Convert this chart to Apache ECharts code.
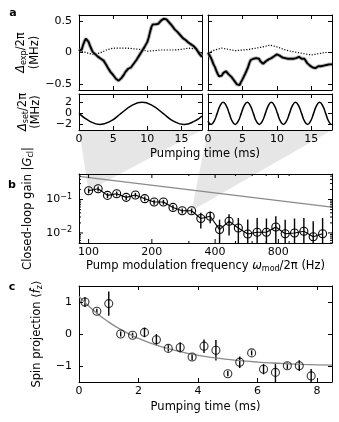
<!DOCTYPE html>
<html><head><meta charset="utf-8">
<script src="https://cdn.jsdelivr.net/npm/echarts@6/dist/echarts.min.js"></script>
<style>html,body{margin:0;padding:0;background:#fff}#c{width:339px;height:422px}</style>
</head><body><div id="c"></div>
<script>
// ---------- DATA ----------
// panel a: measured detuning traces (time in ms, value in MHz)
const traceTime = [0,0.2,0.4,0.6,0.8,1,1.2,1.4,1.6,1.8,2,2.2,2.4,2.6,2.8,3,3.2,3.4,3.6,3.8,4,4.2,4.4,4.6,4.8,5,5.2,5.4,5.6,5.8,6,6.2,6.4,6.6,6.8,7,7.2,7.4,7.6,7.8,8,8.2,8.4,8.6,8.8,9,9.2,9.4,9.6,9.8,10,10.2,10.4,10.6,10.8,11,11.2,11.4,11.6,11.8,12,12.2,12.4,12.6,12.8,13,13.2,13.4,13.6,13.8,14,14.2,14.4,14.6,14.8,15,15.2,15.4,15.6,15.8,16,16.2,16.4,16.6,16.8,17,17.2,17.4,17.6,17.8,18];
const expSlow = [0.02,0.03,0.05,0.12,0.18,0.22,0.22,0.17,0.11,0.06,
 0.01,-0.02,-0.03,-0.06,-0.07,-0.08,-0.10,-0.10,-0.13,-0.15,
 -0.20,-0.24,-0.27,-0.31,-0.34,-0.36,-0.39,-0.42,-0.44,-0.45,
 -0.43,-0.41,-0.38,-0.35,-0.31,-0.28,-0.26,-0.26,-0.24,-0.22,
 -0.18,-0.15,-0.12,-0.09,-0.05,-0.02,0.02,0.05,0.09,0.12,
 0.17,0.24,0.33,0.41,0.45,0.46,0.45,0.47,0.46,0.49,
 0.51,0.53,0.54,0.55,0.53,0.51,0.48,0.45,0.43,0.40,
 0.37,0.34,0.33,0.30,0.28,0.25,0.23,0.21,0.20,0.18,
 0.16,0.15,0.13,0.11,0.10,0.08,0.05,0.02,-0.02,-0.05,
 -0.07];
const expFast = [0.00,-0.02,-0.08,-0.13,-0.19,-0.23,-0.29,-0.34,-0.38,-0.40,
 -0.37,-0.33,-0.31,-0.30,-0.33,-0.35,-0.37,-0.39,-0.42,-0.45,
 -0.48,-0.51,-0.54,-0.52,-0.47,-0.43,-0.40,-0.34,-0.29,-0.24,
 -0.17,-0.12,-0.09,-0.10,-0.07,-0.09,-0.11,-0.10,-0.14,-0.16,
 -0.18,-0.17,-0.14,-0.13,-0.11,-0.10,-0.09,-0.08,-0.06,-0.04,
 -0.03,-0.02,-0.05,-0.06,-0.08,-0.07,-0.09,-0.10,-0.10,-0.11,
 -0.10,-0.11,-0.10,-0.09,-0.09,-0.08,-0.07,-0.08,-0.10,-0.12,
 -0.10,-0.12,-0.17,-0.20,-0.21,-0.21,-0.24,-0.23,-0.25,-0.22,
 -0.22,-0.21,-0.22,-0.23,-0.21,-0.20,-0.20,-0.20,-0.19,-0.19,
 -0.19];
const refTime = [0,1,2,3,4,5,6,7,8,9,10,11,12,13,14,15,16,17,18];
const refSlow = [0.03,0.00,-0.03,-0.01,0.04,0.07,0.07,0.07,0.06,0.05,0.02,0.03,0.04,0.04,0.04,0.05,0.07,0.06,-0.02];
const refFast = [0.00,0.04,0.07,0.05,0.03,0.04,0.05,0.07,0.09,0.12,0.09,0.05,0.02,0.00,-0.02,-0.04,-0.02,0.00,0.00];
// panel a: set-point modulation
const setSlowTime = [0,1.54,3.08,4.61,6.15,7.69,9.23,10.76,12.3,13.84,15.38,16.91,18];
const setSlowVal = [0,-1.41,-2,-1.41,0,1.41,2,1.41,0,-1.41,-2,-1.41,-0.46];
const setFastTime = [0,0.45,0.89,1.33,1.76,2.2,2.64,3.08,3.51,3.95,4.39,4.83,5.26,5.7,6.14,6.58,7.01,7.45,7.89,8.33,8.76,9.2,9.64,10.08,10.51,10.95,11.39,11.83,12.26,12.7,13.14,13.58,14.01,14.45,14.89,15.33,15.76,16.2,16.64,17.08,17.51,17.95,18];
const setFastVal = [-1.38,-2,-1.41,0,1.41,2,1.41,0,-1.41,-2,-1.41,0,1.41,2,1.41,0,-1.41,-2,-1.41,0,1.41,2,1.41,0,-1.41,-2,-1.41,0,1.41,2,1.41,0,-1.41,-2,-1.41,0,1.41,2,1.41,0,-1.41,-2,-1.99];
// panel b: closed-loop gain vs modulation frequency (Hz)
const modFreq = [100,111,123,136,151,167,185,205,227,252,279,309,342,379,420,466,516,572,634,702,778,862,955,1058,1172,1299];
const gain = [0.183,0.21,0.133,0.149,0.116,0.136,0.106,0.084,0.084,0.058,0.046,0.046,0.027,0.0315,0.0126,0.0224,0.0141,0.0093,0.0105,0.0105,0.0151,0.0095,0.0100,0.0112,0.0077,0.0095];
const gainErr = [0.03,0.035,0.022,0.025,0.019,0.022,0.018,0.014,0.014,0.010,0.008,0.008,0.0135,0.012,0.0124,0.014,0.014,0.016,0.0175,0.0165,0.0164,0.0155,0.017,0.017,0.0147,0.0185];
const openLoopFreq = [90,1440];
const openLoopGain = [0.495,0.059];
const bTickMajorFreq = [100,200,400,800];
const bTickMinorFreq = [300,500,600,700,900];
const bTickMajorGain = [0.01,0.1];
const bTickMinorGain = [0.005,0.006,0.007,0.008,0.009,0.02,0.03,0.04,0.05,0.06,0.07,0.08,0.09,0.2,0.3,0.4,0.5];
// panel c: spin projection vs pumping time
const pumpTime = [0.2,0.6,1.0,1.4,1.8,2.2,2.6,3.0,3.4,3.8,4.2,4.6,5.0,5.4,5.8,6.2,6.6,7.0,7.4,7.8];
const spin = [1.0,0.71,0.95,0.0,-0.04,0.05,-0.18,-0.45,-0.42,-0.72,-0.38,-0.51,-1.24,-0.88,-0.59,-1.1,-1.2,-0.99,-0.99,-1.31];
const spinErr = [0.16,0.08,0.38,0.08,0.08,0.15,0.18,0.1,0.16,0.1,0.21,0.32,0.08,0.18,0.08,0.16,0.3,0.1,0.17,0.22];
const fitTime = [0,0.5,1,1.5,2,2.5,3,3.5,4,4.5,5,5.5,6,6.5,7,7.5,8,8.5];
const fitVal = [1.17,0.725,0.371,0.088,-0.137,-0.317,-0.46,-0.574,-0.665,-0.737,-0.794,-0.84,-0.877,-0.906,-0.929,-0.948,-0.962,-0.974];
// tick labels
const ticksA_t = [0,5,10,15];
const ticksA_exp = [-0.5,0,0.5];
const ticksA_set = [-2,0,2];
const ticksC_t = [0,2,4,6,8];
const ticksC_s = [-1,0,1];

// ---------- HELPERS ----------
const F = 'DejaVu Sans';
const zip = (a, b) => a.map((v, i) => [v, b[i]]);
const fmtNum = v => (v < 0 ? '\u2212' : '') + Math.abs(v);
const RICH = {
  i: {fontStyle: 'italic', fontFamily: F, fontSize: 11.5, color: '#000', lineHeight: 14},
  s: {fontFamily: F, fontSize: 8, verticalAlign: 'bottom', lineHeight: 9, color: '#000'},
  sup: {fontFamily: F, fontSize: 8, verticalAlign: 'top', lineHeight: 9, color: '#000'},
  b: {fontFamily: F, fontSize: 11, color: '#000', lineHeight: 14}
};
const nameStyle = {fontFamily: F, fontSize: 11.5, color: '#000', lineHeight: 13, rich: RICH};

function valAxis(pos, gi, min, max, ticks, labelOn, extra) {
  const a = {
    type: 'value', gridIndex: gi, position: pos, min: min, max: max,
    axisLine: {show: true, onZero: false, lineStyle: {color: '#000', width: 1}},
    axisTick: {show: true, inside: true, length: 4, customValues: ticks, lineStyle: {color: '#000', width: 1}},
    axisLabel: labelOn ? {show: true, customValues: ticks, formatter: fmtNum, color: '#000', fontFamily: F, fontSize: 11, margin: (pos === 'left' ? 7 : 4)} : {show: false},
    splitLine: {show: false}
  };
  return Object.assign(a, extra || {});
}
function logAxis(pos, gi, min, max, base, labelOn, fmt, extra) {
  const a = {
    type: 'log', logBase: base, gridIndex: gi, position: pos, min: min, max: max,
    axisLine: {show: true, onZero: false, lineStyle: {color: '#000', width: 1}},
    axisTick: {show: false},
    minorTick: {show: false},
    axisLabel: labelOn ? {show: true, formatter: fmt, color: '#000', fontFamily: F, fontSize: 11, margin: (pos === 'left' ? 7 : 4), showMinLabel: false, showMaxLabel: false, rich: RICH} : {show: false},
    splitLine: {show: false}
  };
  return Object.assign(a, extra || {});
}
const yName = (txt, gap) => ({name: txt, nameLocation: 'middle', nameRotate: 90, nameGap: gap, nameTextStyle: nameStyle});
const xName = (txt, gap) => ({name: txt, nameLocation: 'middle', nameGap: gap, nameTextStyle: nameStyle});

const grids = [
  {left: 79, top: 15, width: 123, height: 75},
  {left: 208, top: 15, width: 124, height: 75},
  {left: 79, top: 94, width: 123, height: 36},
  {left: 208, top: 94, width: 124, height: 36},
  {left: 79, top: 174, width: 253, height: 69},
  {left: 79, top: 286, width: 253, height: 96}
];

const xAxes = [
  valAxis('bottom', 0, 0, 18, ticksA_t, false), valAxis('top', 0, 0, 18, ticksA_t, false),
  valAxis('bottom', 1, 0, 18, ticksA_t, false), valAxis('top', 1, 0, 18, ticksA_t, false),
  valAxis('bottom', 2, 0, 18, ticksA_t, true), valAxis('top', 2, 0, 18, ticksA_t, false),
  valAxis('bottom', 3, 0, 18, ticksA_t, true), valAxis('top', 3, 0, 18, ticksA_t, false),
  logAxis('bottom', 4, openLoopFreq[0] / 100, openLoopFreq[1] / 100, 2, true, v => String(Math.round(v * 100)),
    xName('Pump modulation frequency {i|ω}{s|mod}/2π (Hz)', 15)),
  logAxis('top', 4, openLoopFreq[0] / 100, openLoopFreq[1] / 100, 2, false),
  valAxis('bottom', 5, 0, 8.5, ticksC_t, true, xName('Pumping time (ms)', 19)),
  valAxis('top', 5, 0, 8.5, ticksC_t, false)
];
const yAxes = [
  valAxis('left', 0, -0.6, 0.6, ticksA_exp, true, yName('{i|Δ}{s|exp}/2π\n(MHz)', 36)), valAxis('right', 0, -0.6, 0.6, ticksA_exp, false),
  valAxis('left', 1, -0.6, 0.6, ticksA_exp, false), valAxis('right', 1, -0.6, 0.6, ticksA_exp, false),
  valAxis('left', 2, -3, 3.5, ticksA_set, true, yName('{i|Δ}{s|set}/2π\n(MHz)', 36)), valAxis('right', 2, -3, 3.5, ticksA_set, false),
  valAxis('left', 3, -3, 3.5, ticksA_set, false), valAxis('right', 3, -3, 3.5, ticksA_set, false),
  logAxis('left', 4, 0.005, 0.58, 10, true, v => '{b|10}{sup|\u2212' + Math.abs(Math.round(Math.log10(v))) + '}',
    yName('Closed-loop gain |{i|G}{s|cl}|', 44)),
  logAxis('right', 4, 0.005, 0.58, 10, false),
  valAxis('left', 5, -1.5, 1.5, ticksC_s, true, yName('Spin projection ⟨{i|f̂}{s|z}⟩', 35)), valAxis('right', 5, -1.5, 1.5, ticksC_s, false)
];

function errRender(params, api) {
  const x = api.value(0), y = api.value(1), e = api.value(2);
  const cs = params.coordSys;
  const p = api.coord([x, y + e]);
  const lo = y - e;
  let yb = lo > 0 ? api.coord([x, lo])[1] : cs.y + cs.height;
  if (!isFinite(yb)) yb = cs.y + cs.height;
  yb = Math.min(yb, cs.y + cs.height);
  const yt = Math.max(p[1], cs.y);
  return {type: 'line', shape: {x1: p[0], y1: yt, x2: p[0], y2: yb}, style: {stroke: '#000', lineWidth: 1.4}};
}
function linErrRender(params, api) {
  const x = api.value(0), y = api.value(1), e = api.value(2);
  const cs = params.coordSys;
  const p1 = api.coord([x, y + e]), p2 = api.coord([x, y - e]);
  return {type: 'line', shape: {x1: p1[0], y1: Math.max(p1[1], cs.y), x2: p1[0], y2: Math.min(p2[1], cs.y + cs.height)}, style: {stroke: '#000', lineWidth: 1.4}};
}
function xTickRender(params, api) {
  const cs = params.coordSys;
  const x = api.coord([api.value(0), api.value(1)])[0];
  const len = api.value(2);
  return {type: 'group', children: [
    {type: 'line', shape: {x1: x, y1: cs.y + cs.height, x2: x, y2: cs.y + cs.height - len}, style: {stroke: '#000', lineWidth: 1}},
    {type: 'line', shape: {x1: x, y1: cs.y, x2: x, y2: cs.y + len}, style: {stroke: '#000', lineWidth: 1}}
  ]};
}
function yTickRender(params, api) {
  const cs = params.coordSys;
  const y = api.coord([api.value(0), api.value(1)])[1];
  const len = api.value(2);
  return {type: 'group', children: [
    {type: 'line', shape: {x1: cs.x, y1: y, x2: cs.x + len, y2: y}, style: {stroke: '#000', lineWidth: 1}},
    {type: 'line', shape: {x1: cs.x + cs.width, y1: y, x2: cs.x + cs.width - len, y2: y}, style: {stroke: '#000', lineWidth: 1}}
  ]};
}

const bx = f => f / 100;
const xTickData = bTickMajorFreq.map(f => [bx(f), 0.1, 4]).concat(bTickMinorFreq.map(f => [bx(f), 0.1, 2]));
const yTickData = bTickMajorGain.map(g => [1, g, 4]).concat(bTickMinorGain.map(g => [1, g, 2]));

const series = [
  // a top-left
  {type: 'line', xAxisIndex: 0, yAxisIndex: 0, data: zip(refTime, refSlow), symbol: 'none', lineStyle: {color: '#000', width: 1.2, type: [1.2, 1.6]}},
  {type: 'line', xAxisIndex: 0, yAxisIndex: 0, data: zip(traceTime, expSlow), symbol: 'none', lineStyle: {color: '#888', width: 3.8, opacity: 0.6}},
  {type: 'line', xAxisIndex: 0, yAxisIndex: 0, data: zip(traceTime, expSlow), symbol: 'none', lineStyle: {color: '#000', width: 1.9}},
  // a top-right
  {type: 'line', xAxisIndex: 2, yAxisIndex: 2, data: zip(refTime, refFast), symbol: 'none', lineStyle: {color: '#000', width: 1.2, type: [1.2, 1.6]}},
  {type: 'line', xAxisIndex: 2, yAxisIndex: 2, data: zip(traceTime, expFast), symbol: 'none', lineStyle: {color: '#888', width: 3.8, opacity: 0.6}},
  {type: 'line', xAxisIndex: 2, yAxisIndex: 2, data: zip(traceTime, expFast), symbol: 'none', lineStyle: {color: '#000', width: 1.9}},
  // a bottom
  {type: 'line', xAxisIndex: 4, yAxisIndex: 4, data: zip(setSlowTime, setSlowVal), symbol: 'none', smooth: true, lineStyle: {color: '#000', width: 1.5}},
  {type: 'line', xAxisIndex: 6, yAxisIndex: 6, data: zip(setFastTime, setFastVal), symbol: 'none', smooth: true, lineStyle: {color: '#000', width: 1.5}},
  // b
  {type: 'custom', xAxisIndex: 8, yAxisIndex: 8, renderItem: xTickRender, data: xTickData, silent: true, z: 5, clip: false},
  {type: 'custom', xAxisIndex: 8, yAxisIndex: 8, renderItem: yTickRender, data: yTickData, silent: true, z: 5, clip: false},
  {type: 'line', xAxisIndex: 8, yAxisIndex: 8, data: zip(openLoopFreq.map(bx), openLoopGain), symbol: 'none', lineStyle: {color: '#8a8a8a', width: 1.3}},
  {type: 'custom', xAxisIndex: 8, yAxisIndex: 8, renderItem: errRender, data: modFreq.map((f, i) => [bx(f), gain[i], gainErr[i]]), silent: true, z: 3},
  {type: 'line', xAxisIndex: 8, yAxisIndex: 8, data: zip(modFreq.map(bx), gain), symbol: 'circle', symbolSize: 8,
    itemStyle: {color: 'rgba(0,0,0,0)', borderColor: '#000', borderWidth: 1.1}, lineStyle: {color: '#000', width: 1.1}, z: 4},
  // c
  {type: 'line', xAxisIndex: 10, yAxisIndex: 10, data: zip(fitTime, fitVal), symbol: 'none', smooth: true, lineStyle: {color: '#8a8a8a', width: 1.3}},
  {type: 'custom', xAxisIndex: 10, yAxisIndex: 10, renderItem: linErrRender, data: pumpTime.map((t, i) => [t, spin[i], spinErr[i]]), silent: true, z: 3},
  {type: 'scatter', xAxisIndex: 10, yAxisIndex: 10, data: zip(pumpTime, spin), symbol: 'circle', symbolSize: 8,
    itemStyle: {color: 'rgba(0,0,0,0)', borderColor: '#000', borderWidth: 1.1}, z: 4}
];

const chart = echarts.init(document.getElementById('c'), null, {renderer: 'canvas'});
chart.setOption({
  animation: false,
  backgroundColor: '#fff',
  textStyle: {fontFamily: F},
  grid: grids,
  xAxis: xAxes,
  yAxis: yAxes,
  series: series
});

const px = (ai, v) => chart.convertToPixel({xAxisIndex: ai, yAxisIndex: ai}, v);
const wedges = [
  [px(4, [0, -3]), px(4, [18, -3]), px(8, [bx(modFreq[0]), gain[0]])],
  [px(6, [0, -3]), px(6, [18, -3]), px(8, [bx(modFreq[11]), gain[11]])]
];
const txt = (s, x, y, font, align) => ({type: 'text', x: x, y: y, z: 10,
  style: {text: s, font: font, fill: '#000', align: align || 'center', verticalAlign: 'middle'}});
chart.setOption({
  graphic: wedges.map(w => ({type: 'polygon', z: -10, shape: {points: w}, style: {fill: '#e6e6e6'}, silent: true})).concat([
    txt('Pumping time (ms)', 205, 154, '11.5px "DejaVu Sans"'),
    txt('a', 13, 13, 'bold 11px "DejaVu Sans"'),
    txt('b', 12, 185, 'bold 11px "DejaVu Sans"'),
    txt('c', 12, 287, 'bold 11px "DejaVu Sans"')
  ])
});
</script></body></html>
